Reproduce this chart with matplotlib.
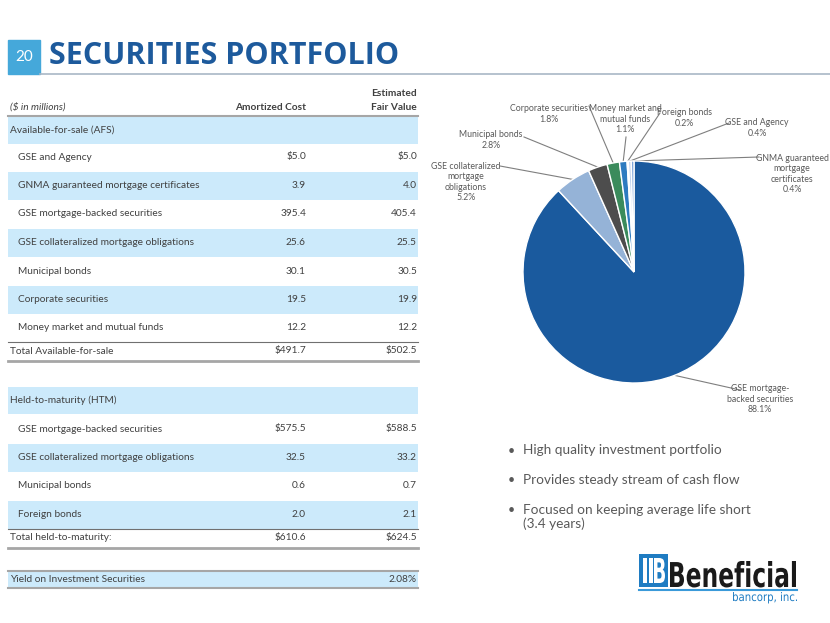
import matplotlib
matplotlib.use("Agg")
import matplotlib.pyplot as plt
from matplotlib.patches import Rectangle, PathPatch
from matplotlib.textpath import TextPath
from matplotlib.font_manager import FontProperties
from matplotlib.transforms import Affine2D
import numpy as np

# ---------------- data ----------------
afs_labels = ["GSE and Agency", "GNMA guaranteed mortgage certificates",
              "GSE mortgage-backed securities", "GSE collateralized mortgage obligations",
              "Municipal bonds", "Corporate securities", "Money market and mutual funds"]
afs_amortized = [5.0, 3.9, 395.4, 25.6, 30.1, 19.5, 12.2]
afs_fair = [5.0, 4.0, 405.4, 25.5, 30.5, 19.9, 12.2]
afs_total = [491.7, 502.5]

htm_labels = ["GSE mortgage-backed securities", "GSE collateralized mortgage obligations",
              "Municipal bonds", "Foreign bonds"]
htm_amortized = [575.5, 32.5, 0.6, 2.0]
htm_fair = [588.5, 33.2, 0.7, 2.1]
htm_total = [610.6, 624.5]

yield_pct = 2.08

pie_labels = ["GSE mortgage-\nbacked securities", "GSE collateralized\nmortgage\nobligations",
              "Municipal bonds", "Corporate securities", "Money market and\nmutual funds",
              "Foreign bonds", "GSE and Agency", "GNMA guaranteed\nmortgage\ncertificates"]
pie_shares = [88.1, 5.2, 2.8, 1.8, 1.1, 0.2, 0.4, 0.4]

bullets = ["High quality investment portfolio",
           "Provides steady stream of cash flow",
           "Focused on keeping average life short\n(3.4 years)"]

# ---------------- styles ----------------
pie_colors = ["#1A5A9E", "#95B3D7", "#4D4D4D", "#3B8B5C", "#2E7BC0",
              "#E3ECF6", "#BDD0EC", "#7FA6DA"]
FONT = "Lato"
TXT = "#404040"
SHADE = "#CCEAFB"

W, H = 830, 623
fig = plt.figure(figsize=(W / 100, H / 100), dpi=100)
ax = fig.add_axes([0, 0, 1, 1])
ax.set_xlim(0, W)
ax.set_ylim(H, 0)
ax.axis("off")


def path_text(s, x_left, baseline, width, height, color, weight="normal", family="DejaVu Sans"):
    """Draw text as a path squeezed into the given width and cap/ascender height."""
    tp = TextPath((0, 0), s, size=1, prop=FontProperties(family=family, weight=weight))
    ext = tp.get_extents()
    sx = width / ext.width
    sy = height / ext.y1
    tr = Affine2D().translate(-ext.x0, 0).scale(sx, -sy).translate(x_left, baseline)
    ax.add_patch(PathPatch(tr.transform_path(tp), facecolor=color, edgecolor="none", lw=0))


# ---------------- title ----------------
ax.add_patch(Rectangle((8, 40), 32, 34, color="#45A8DA", zorder=2))
ax.text(24, 57, "20", color="white", fontsize=11, ha="center", va="center", family=FONT)
ax.plot([40, 830], [74, 74], color="#A9B7C6", lw=1.2)
ax.text(49, 56, "SECURITIES PORTFOLIO", color="#1D5A9C", fontsize=22, fontweight="bold",
        ha="left", va="center", family="Open Sans")

# ---------------- table ----------------
fs = 7.3
xl, xr = 8, 418
x_sec, x_item, x_am, x_fv = 10, 18, 306, 417


def fmt(v, dollar):
    return ("$" if dollar else "") + f"{v:,.1f}"


ax.text(x_sec, 107, "($ in millions)", fontsize=fs, style="italic", color=TXT, va="center", family=FONT)
ax.text(x_am, 107, "Amortized Cost", fontsize=fs, fontweight="bold", color=TXT, ha="right", va="center", family=FONT)
ax.text(x_fv, 93, "Estimated", fontsize=fs, fontweight="bold", color=TXT, ha="right", va="center", family=FONT)
ax.text(x_fv, 107, "Fair Value", fontsize=fs, fontweight="bold", color=TXT, ha="right", va="center", family=FONT)
ax.plot([xl, xr], [116, 116], color="#A6A6A6", lw=1.5)

pitch = 28.5


def section(header, y_head, labels, am, fv, total_label, total, y0):
    ax.add_patch(Rectangle((xl, y_head - 13.5), xr - xl, 27, color=SHADE, lw=0, zorder=0))
    ax.text(x_sec, y_head, header, fontsize=fs, color=TXT, va="center", family=FONT)
    y = y0
    for i, (lab, a, f) in enumerate(zip(labels, am, fv)):
        if i % 2 == 1:
            ax.add_patch(Rectangle((xl, y - 14), xr - xl, 28.5, color=SHADE, lw=0, zorder=0))
        ax.text(x_item, y, lab, fontsize=fs, color=TXT, va="center", family=FONT)
        ax.text(x_am, y, fmt(a, i == 0), fontsize=fs, color=TXT, ha="right", va="center", family=FONT)
        ax.text(x_fv, y, fmt(f, i == 0), fontsize=fs, color=TXT, ha="right", va="center", family=FONT)
        y += pitch
    yl = y - 14.5
    ax.plot([xl, xr], [yl, yl], color="#707070", lw=0.8)
    yt = yl + 9
    ax.text(x_sec, yt, total_label, fontsize=fs, color=TXT, va="center", family=FONT)
    ax.text(x_am, yt, fmt(total[0], True), fontsize=fs, color=TXT, ha="right", va="center", family=FONT)
    ax.text(x_fv, yt, fmt(total[1], True), fontsize=fs, color=TXT, ha="right", va="center", family=FONT)
    ax.plot([xl, xr], [yl + 19, yl + 19], color="#A6A6A6", lw=2)


section("Available-for-sale (AFS)", 130, afs_labels, afs_amortized, afs_fair,
        "Total Available-for-sale", afs_total, 157)
section("Held-to-maturity (HTM)", 400, htm_labels, htm_amortized, htm_fair,
        "Total held-to-maturity:", htm_total, 429)

ax.add_patch(Rectangle((xl, 571), xr - xl, 16, color=SHADE, lw=0, zorder=0))
ax.plot([xl, xr], [571, 571], color="#A6A6A6", lw=1.5)
ax.plot([xl, xr], [587.5, 587.5], color="#A6A6A6", lw=1.5)
ax.text(x_sec, 579, "Yield on Investment Securities", fontsize=fs, color=TXT, va="center", family=FONT)
ax.text(x_fv, 579, f"{yield_pct:.2f}%", fontsize=fs, color=TXT, ha="right", va="center", family=FONT)

# ---------------- pie ----------------
cx, cy, r = 634, 272, 111
pax = fig.add_axes([(cx - r) / W, 1 - (cy + r) / H, 2 * r / W, 2 * r / H])
wedges, _ = pax.pie(pie_shares, colors=pie_colors, startangle=90, counterclock=False,
                    wedgeprops=dict(edgecolor="white", linewidth=1.0))
pax.set_xlim(-1, 1)
pax.set_ylim(-1, 1)
pax.axis("off")

# label layout: (text center x, y, line end x, y)
label_layout = [
    (760, 399, 740, 390),
    (466, 182, 500, 166),
    (491, 140, 524, 137),
    (549, 114, 589, 106),
    (625, 119, 626, 137),
    (684, 118, 660, 113),
    (757, 128, 729, 123),
    (792, 174, 759, 157),
]
pfs = 6.3
for w, lab, share, (tx, ty, lx, ly) in zip(wedges, pie_labels, pie_shares, label_layout):
    mid = np.deg2rad((w.theta1 + w.theta2) / 2)
    sx, sy = cx + r * np.cos(mid), cy - r * np.sin(mid)
    ax.plot([sx, lx], [sy, ly], color="#7F7F7F", lw=0.8)
    ax.text(tx, ty, f"{lab}\n{share:.1f}%", fontsize=pfs, color="#595959", ha="center",
            va="center", family=FONT, linespacing=1.2)

# ---------------- bullets ----------------
by = [451, 480, 510]
for y, b in zip(by, bullets):
    ax.text(511, y, "•", fontsize=9, color="#595959", va="center", ha="center", family=FONT)
    ax.text(523, y - 6.5, b, fontsize=9.8, color="#595959", va="top", ha="left", family=FONT,
            linespacing=1.15)

# ---------------- logo ----------------
ax.add_patch(Rectangle((639, 554), 29, 33, color="#1F7CC2", lw=0))
for x0 in (643, 649):
    ax.add_patch(Rectangle((x0, 558), 3.5, 25, color="white", lw=0))
path_text("B", 654, 583, 11, 25, "white", weight="bold")
path_text("Beneficial", 670, 587, 126, 26, "#1A1A1A", weight="bold")
ax.plot([639, 797], [590, 590], color="#3A9AD9", lw=1.5)
path_text("bancorp, inc.", 733, 601, 64, 9, "#1F7CC2")

fig.savefig("out.png", dpi=100, facecolor="white")
